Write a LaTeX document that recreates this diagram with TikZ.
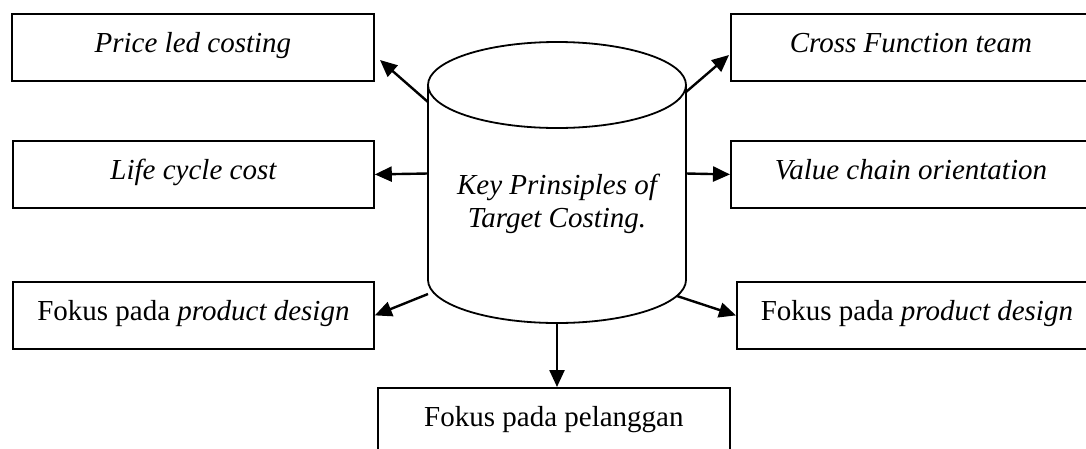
\documentclass[tikz,border=0pt]{standalone}
\usepackage{fontspec}
\setmainfont{Liberation Serif}
\usetikzlibrary{arrows.meta,calc}
\begin{document}
\begin{tikzpicture}[x=1pt,y=-1pt,
  box/.style={draw,line width=1.8pt,rectangle,anchor=north west,inner sep=0pt,
    minimum width=#1,text height=39pt,text depth=28pt,font=\fontsize{29}{34}\selectfont},
  arr/.style={line width=2.4pt,-{Triangle[length=17pt,width=15pt]}},
  cyl/.style={line width=1.8pt}]
\useasboundingbox (0,0) rectangle (1086,448);
\clip (0,0) rectangle (1086,448);
% boxes
\node[box=362] (pl) at (11,13) {\itshape Price led costing};
\node[box=361] (lc) at (12,140) {\itshape Life cycle cost};
\node[box=361] (fl) at (12,281) {Fokus pada \textit{product design}};
\node[box=360] (cf) at (730,13) {\itshape Cross Function team};
\node[box=360] (vc) at (730,140) {\itshape Value chain orientation};
\node[box=360] (fr) at (736,281) {Fokus pada \textit{product design}};
\node[box=352] (fp) at (377,387) {Fokus pada pelanggan};
% cylinder
\draw[cyl] (557,85) ellipse [x radius=129, y radius=43];
\draw[cyl] (428,85) -- (428,280) arc[start angle=180, end angle=0, x radius=129, y radius=43] -- (686,85);
\node[font=\fontsize{29}{33}\selectfont\itshape,align=center,inner sep=0pt] (key) at (557,204)
  {Key Prinsiples of\\Target Costing.};
% arrow coordinates
\coordinate (s1) at (428,102);
\coordinate (t1) at (380,60);
\coordinate (s2) at (428,173.5);
\coordinate (s3) at (686,92);
\coordinate (t3) at (729,55);
\coordinate (s4) at (686,173.5);
\coordinate (s5) at (428,294);
\coordinate (s6) at (677,296);
\coordinate (s7) at (557,323);
% arrows
\draw[arr] (s1) -- (t1);
\draw[arr] (s2) -- (lc.east);
\draw[arr] (s3) -- (t3);
\draw[arr] (s4) -- (vc.west);
\draw[arr] (s5) -- (fl.east);
\draw[arr] (s6) -- (fr.west);
\draw[arr] (s7) -- (s7 |- fp.north);
\end{tikzpicture}
\end{document}
